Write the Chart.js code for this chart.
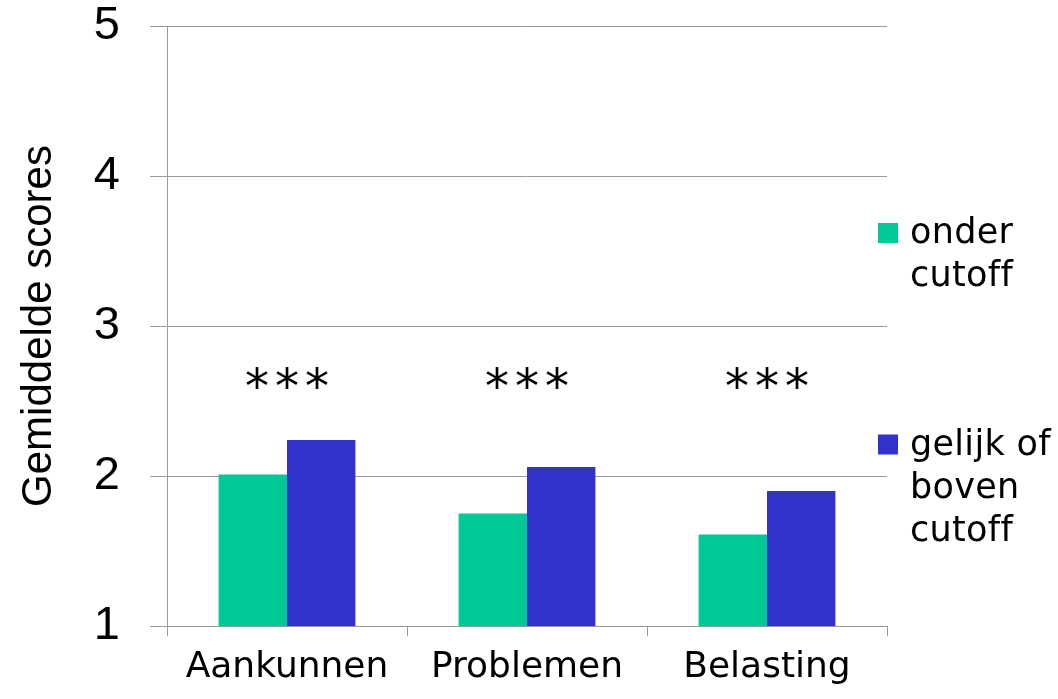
<!DOCTYPE html>
<html>
<head>
<meta charset="utf-8">
<script src="https://cdn.jsdelivr.net/npm/chart.js@4"></script>
<style>
  html, body { margin: 0; padding: 0; background: #fff; }
  #wrap { width: 1058px; height: 699px; }
</style>
</head>
<body>
<div id="wrap"><canvas id="chart" width="1058" height="699"></canvas></div>
<script>
(() => {
  const categories = ['Aankunnen', 'Problemen', 'Belasting']
  const seriesNames = [['onder', 'cutoff'], ['gelijk of', 'boven', 'cutoff']]
  const onderCutoff = [2.01, 1.75, 1.61]
  const bovenCutoff = [2.24, 2.06, 1.90]
  const significance = ['***', '***', '***']
  const sigLevel = 2.62
  const colors = ['#00C896', '#3333CC']

  const gridColor = '#9a9a9a'

  // stars above each group
  const starsPlugin = {
    id: 'stars',
    afterDatasetsDraw(chart) {
      const { ctx, scales } = chart
      ctx.save()
      ctx.fillStyle = '#000'
      ctx.font = '48px "DejaVu Sans"'
      ctx.letterSpacing = '6px'
      ctx.textAlign = 'center'
      ctx.textBaseline = 'middle'
      significance.forEach((s, i) => {
        const x = scales.x.getPixelForValue(i) + 3
        const y = scales.y.getPixelForValue(sigLevel) + 8
        ctx.fillText(s, x, y)
      })
      ctx.restore()
    }
  }

  // legend on the right with wrapped labels
  const sideLegend = {
    id: 'sideLegend',
    afterDraw(chart) {
      const { ctx, chartArea, scales } = chart
      ctx.save()
      ctx.font = '35px "DejaVu Sans"'
      ctx.letterSpacing = '0.3px'
      ctx.textBaseline = 'middle'
      const lineH = 43
      const boxX = chartArea.right - 9
      const textX = chartArea.right + 23
      const anchors = [3.62, 2.21]
      chart.data.datasets.forEach((ds, i) => {
        const y0 = scales.y.getPixelForValue(anchors[i])
        ctx.fillStyle = ds.backgroundColor
        ctx.fillRect(boxX, y0 - 10, 20, 20)
        ctx.fillStyle = '#000'
        seriesNames[i].forEach((line, j) => {
          ctx.fillText(line, textX, y0 + j * lineH + 1)
        })
      })
      ctx.restore()
    }
  }

  new Chart(document.getElementById('chart'), {
    type: 'bar',
    data: {
      labels: categories,
      datasets: [{
        label: seriesNames[0].join(' '),
        data: onderCutoff,
        backgroundColor: colors[0],
        categoryPercentage: 0.57,
        barPercentage: 1
      }, {
        label: seriesNames[1].join(' '),
        data: bovenCutoff,
        backgroundColor: colors[1],
        categoryPercentage: 0.57,
        barPercentage: 1
      }]
    },
    options: {
      responsive: false,
      animation: false,
      layout: { padding: { left: 14, right: 171, top: 26, bottom: 0 } },
      plugins: {
        legend: { display: false },
        tooltip: { enabled: false }
      },
      scales: {
        x: {
          afterFit(scale) {
            scale.height = 73
            scale.paddingLeft = 0
            scale.paddingRight = 0
          },
          grid: {
            drawOnChartArea: false,
            color: gridColor,
            tickLength: 10
          },
          border: { color: gridColor },
          ticks: {
            color: '#000',
            padding: 10,
            font: { family: 'DejaVu Sans', size: 36 }
          }
        },
        y: {
          min: 1,
          max: 5,
          afterFit(scale) {
            scale.width = 153
            scale.paddingTop = 0
            scale.paddingBottom = 0
          },
          grid: {
            color: gridColor,
            tickLength: 17
          },
          border: { color: gridColor },
          ticks: {
            stepSize: 1,
            color: '#000',
            padding: 30,
            font: { family: 'Liberation Sans', size: 47 }
          },
          title: {
            display: true,
            text: 'Gemiddelde scores',
            color: '#000',
            padding: { top: 0, bottom: 0 },
            font: { family: 'Liberation Sans', size: 42 }
          }
        }
      }
    },
    plugins: [starsPlugin, sideLegend]
  })
})()
</script>
</body>
</html>
